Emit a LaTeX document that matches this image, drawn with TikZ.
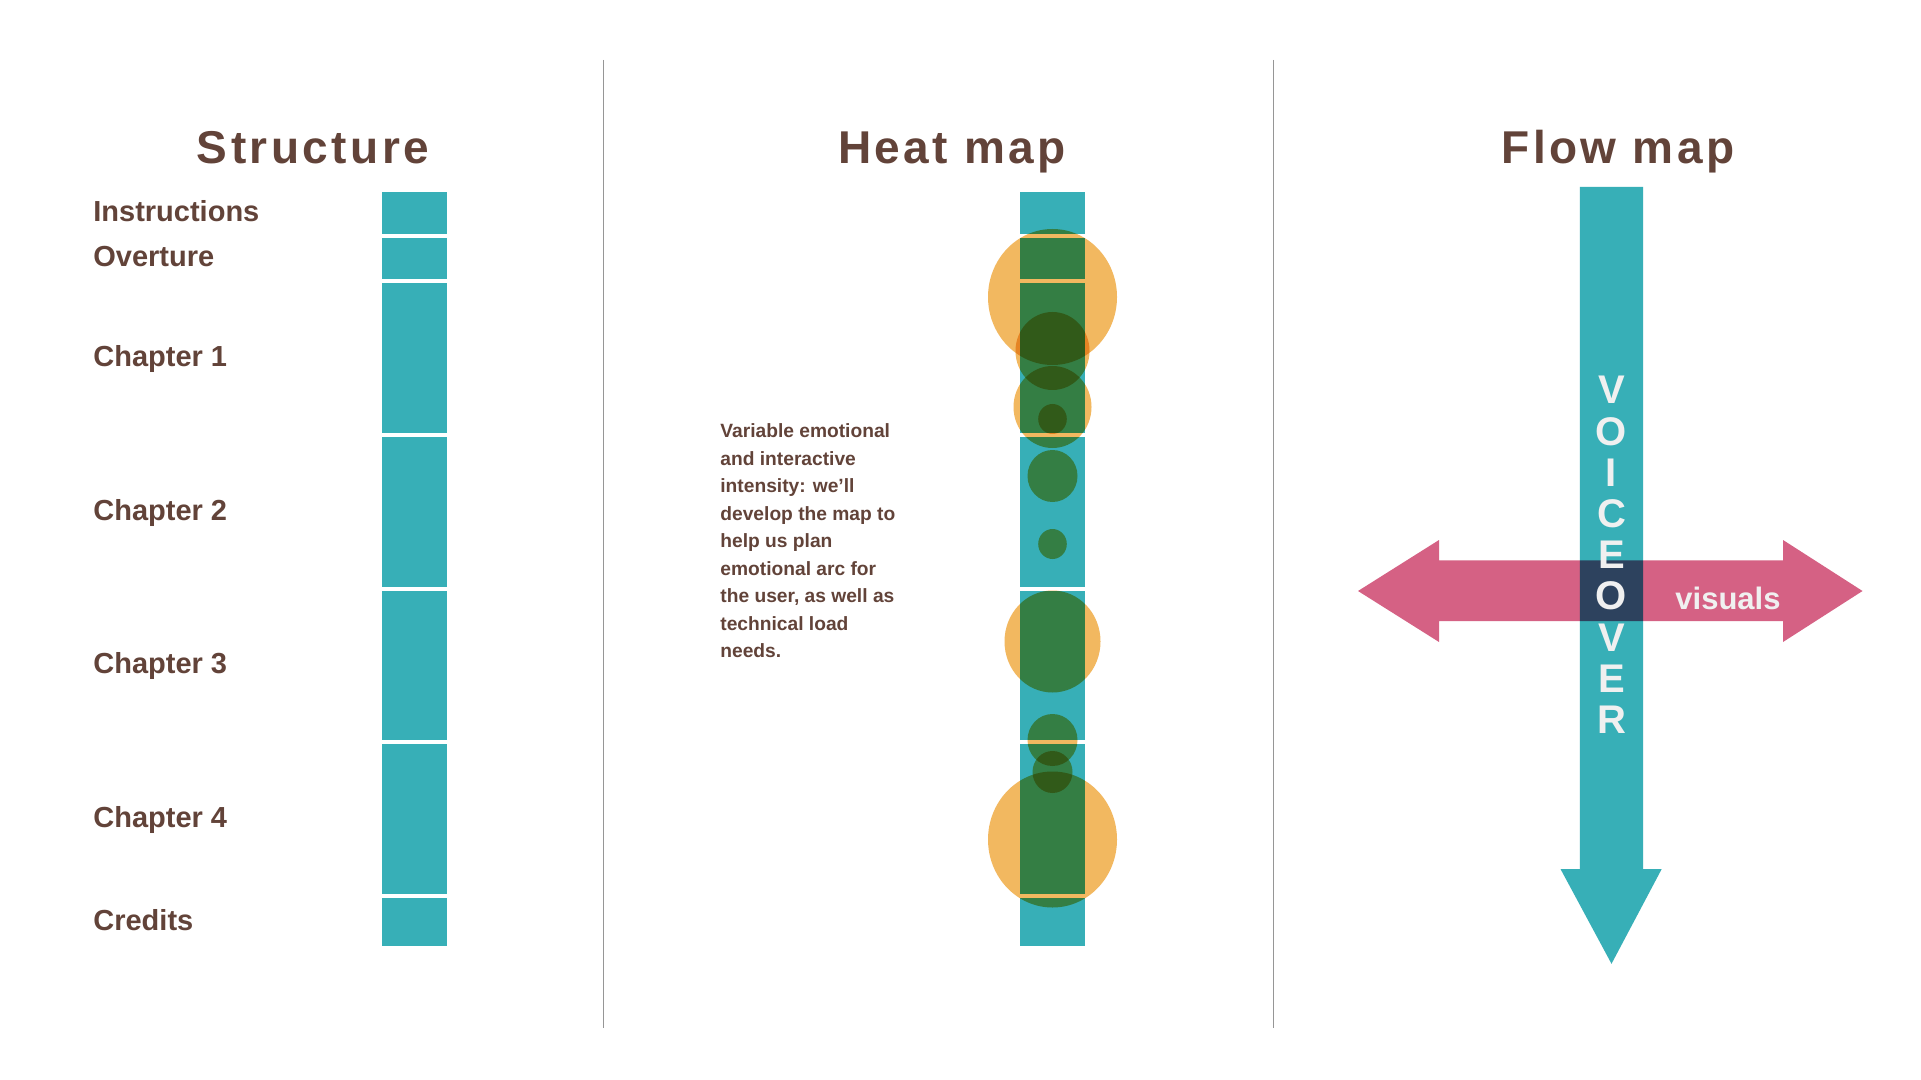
\documentclass[tikz,border=0pt]{standalone}
\usepackage{fontspec}
\setmainfont{Liberation Sans}
\newfontfamily\titlefont[LetterSpace=7.5]{Liberation Sans}
\usetikzlibrary{positioning}
\definecolor{ink}{RGB}{98,67,57}
\definecolor{tealbar}{RGB}{55,175,183}
\definecolor{heat}{RGB}{242,184,96}
\definecolor{visual}{RGB}{213,97,132}
\definecolor{rule}{RGB}{150,150,150}
\definecolor{paper}{RGB}{240,240,240}
\tikzset{
	seg/.style = {
		fill = tealbar,
		rectangle,
		inner sep = 0pt,
		outer sep = 0pt,
		minimum width = 32.5pt
	},
	title/.style = {
		text = ink,
		anchor = base,
		font = \titlefont\bfseries\fontsize{23pt}{26pt}\selectfont
	},
	part/.style = {
		text = ink,
		anchor = west,
		inner sep = 0pt,
		text height = 10.4pt,
		text depth = 0pt,
		yshift = 1pt,
		font = \bfseries\fontsize{14.5pt}{17pt}\selectfont
	},
	note/.style = {
		text = ink,
		align = left,
		inner sep = 0pt,
		font = \bfseries\fontsize{9.6pt}{13.75pt}\selectfont
	},
	vo/.style = {
		text = paper,
		inner sep = 0pt,
		text height = 14.3pt,
		text depth = 0pt,
		font = \bfseries\fontsize{20pt}{24pt}\selectfont
	},
	divider/.style = {
		draw = rule,
		line width = 0.5pt
	}
}

\begin{document}
\begin{tikzpicture}[x=0.5pt, y=-0.5pt]
    \fill [white] (0,0) rectangle (1921,1080) ;
    \useasboundingbox (0,0) rectangle (1921,1080) ;

    % columns
    \draw [divider] (603,60) -- (603,1028) ;
    \draw [divider] (1273,60) -- (1273,1028) ;

    \node [title] (tstructure) at (313,164) {Structure} ;
    \node [title] (theat) at (952,164) {Heat map} ;
    \node [title] (tflow) at (1618,164) {Flow map} ;

    % structure bar
    \node [seg, minimum height = 21pt, anchor = north] (ins) at (414.5,192) {} ;
    \node [seg, minimum height = 20.5pt, below = 2pt of ins] (ove) {} ;
    \node [seg, minimum height = 75pt, below = 2pt of ove] (ch1) {} ;
    \node [seg, minimum height = 75pt, below = 2pt of ch1] (ch2) {} ;
    \node [seg, minimum height = 74.5pt, below = 2pt of ch2] (ch3) {} ;
    \node [seg, minimum height = 75pt, below = 2pt of ch3] (ch4) {} ;
    \node [seg, minimum height = 24pt, below = 2pt of ch4] (cre) {} ;

    \node [part] (lins) at (93,0 |- ins) {Instructions} ;
    \node [part] (love) at (93,0 |- ove) {Overture} ;
    \node [part] (lch1) at (93,0 |- ch1) {Chapter 1} ;
    \node [part] (lch2) at (93,0 |- ch2) {Chapter 2} ;
    \node [part] (lch3) at (93,0 |- ch3) {Chapter 3} ;
    \node [part] (lch4) at (93,0 |- ch4) {Chapter 4} ;
    \node [part] (lcre) at (93,0 |- cre) {Credits} ;

    % heat map bar
    \node [seg, minimum height = 21pt, anchor = north] (hins) at (1052.5,192) {} ;
    \node [seg, minimum height = 20.5pt, below = 2pt of hins] (hove) {} ;
    \node [seg, minimum height = 75pt, below = 2pt of hove] (hch1) {} ;
    \node [seg, minimum height = 75pt, below = 2pt of hch1] (hch2) {} ;
    \node [seg, minimum height = 74.5pt, below = 2pt of hch2] (hch3) {} ;
    \node [seg, minimum height = 75pt, below = 2pt of hch3] (hch4) {} ;
    \node [seg, minimum height = 24pt, below = 2pt of hch4] (hcre) {} ;

    \begin{scope}[blend mode = multiply]
        \foreach \cy/\rx/\ry in {297/64.5/68, 351/37/39, 407/39/41, 419/14.3/15,
                476/25/26, 544/14.3/15, 641.5/48/51, 740/25/26, 772/20/21, 839.5/64.5/68}
            \fill [heat] (1052.5,\cy) ellipse [x radius = \rx, y radius = \ry] ;
    \end{scope}

    \node [note, anchor = base west] (intensity) at (720,657.6) {Variable emotional\\and interactive\\intensity: we’ll\\develop the map to\\help us plan\\emotional arc for\\the user, as well as\\technical load\\needs.} ;

    % flow map
    \fill [tealbar] (1579.8,187) -- (1643.2,187) -- (1643.2,869) -- (1661.7,869)
        -- (1611.5,963.8) -- (1560.5,869) -- (1579.8,869) -- cycle ;
    \begin{scope}[blend mode = multiply]
        \fill [visual] (1358,591) -- (1439,540) -- (1439,560.4) -- (1783,560.4) -- (1783,540)
            -- (1862.5,591) -- (1783,642) -- (1783,621) -- (1439,621) -- (1439,642) -- cycle ;
    \end{scope}

    \foreach \ch [count = \k from 0] in {V,O,I,C,E,O,V,E,R}
        \node [vo] (vo\k) at (1611.5,389.5+41.2*\k) {\ch} ;
    \node [vo, anchor = base west, text height = , font = \bfseries\fontsize{15.5pt}{19pt}\selectfont] (visuals) at (1675,609.6) {visuals} ;
\end{tikzpicture}
\end{document}
